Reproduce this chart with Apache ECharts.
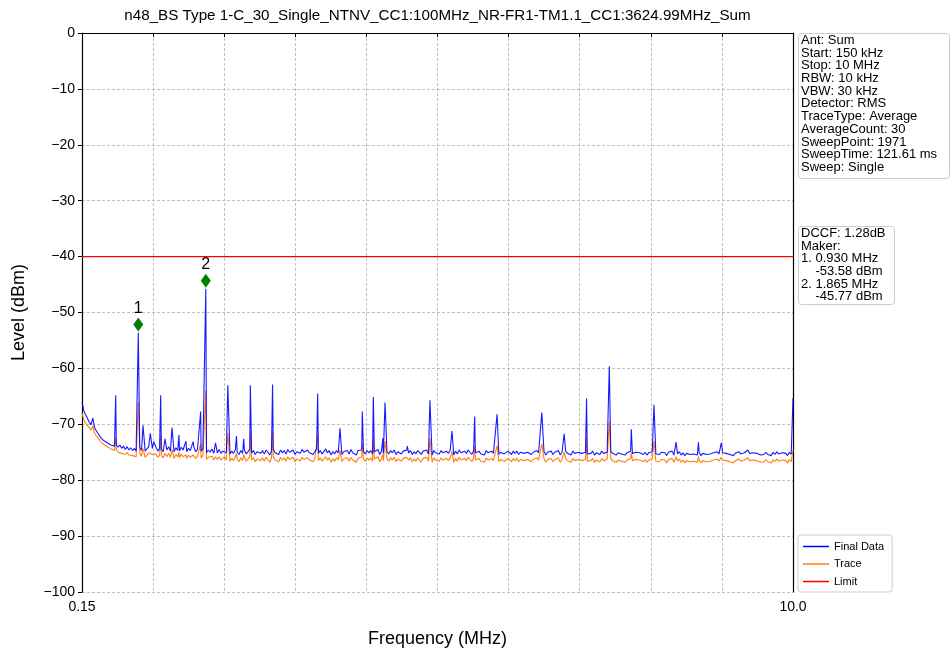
<!DOCTYPE html>
<html>
<head>
<meta charset="utf-8">
<script src="https://cdn.jsdelivr.net/npm/echarts@6/dist/echarts.min.js"></script>
<style>
  html, body { margin: 0; padding: 0; background: #fff; }
  #chart { width: 951px; height: 654px; }
</style>
</head>
<body>
<div id="chart"></div>
<script>
// sweep grid of the floor arrays below (MHz)
const sweepStart = 0.15;
const sweepStep = 0.025;

// Final Data noise floor (dBm), one value per grid step
const finalFloor = [
  -66.0,-67.6,-68.3,-68.9,-69.6,-70.1,-68.9,-70.6,-71.2,-71.5,-72.2,-72.0,-72.9,-72.7,-73.3,-73.1,-73.7,-73.4,-73.9,-73.6,
  -74.1,-73.7,-74.3,-73.9,-74.5,-74.0,-74.6,-74.2,-74.7,-74.3,-74.8,-74.4,-74.1,-74.7,-74.2,-74.8,-74.4,-74.0,-74.6,-74.3,
  -74.7,-74.1,-74.8,-74.3,-74.5,-74.9,-74.2,-74.6,-74.0,-74.8,-74.4,-74.9,-74.2,-74.7,-74.8,-74.1,-74.6,-74.4,-74.9,-74.3,
  -74.7,-74.4,-74.1,-74.9,-74.5,-74.2,-74.8,-74.4,-74.3,-75.1,-74.6,-75.0,-74.4,-75.2,-74.7,-75.1,-74.5,-75.2,-74.8,-74.5,
  -75.1,-74.6,-75.3,-74.8,-75.2,-74.5,-75.0,-75.4,-74.7,-75.2,-74.6,-75.3,-74.9,-74.4,-75.1,-74.7,-75.4,-74.9,-74.6,-75.2,
  -74.7,-75.3,-74.6,-75.0,-75.5,-74.8,-74.4,-75.1,-74.9,-75.4,-74.6,-75.1,-74.7,-75.3,-74.5,-75.0,-75.2,-74.6,-75.4,-74.9,
  -74.7,-75.2,-74.5,-75.0,-75.3,-74.6,-75.1,-74.8,-75.4,-74.9,-74.5,-75.2,-74.7,-75.3,-74.9,-74.4,-75.1,-74.7,-75.5,-74.9,
  -75.3,-74.7,-75.1,-74.6,-75.4,-74.9,-75.2,-74.7,-75.3,-74.5,-75.1,-74.8,-75.5,-74.7,-75.0,-74.6,-74.9,-75.3,-74.7,-75.1,
  -74.7,-75.3,-74.9,-75.1,-74.5,-75.4,-74.8,-75.2,-74.5,-74.9,-75.3,-74.7,-75.1,-74.6,-75.4,-74.9,-74.7,-75.3,-74.8,-75.1,
  -74.6,-75.1,-74.7,-75.4,-74.9,-75.3,-74.7,-75.0,-75.4,-74.8,-75.1,-74.6,-75.3,-74.9,-75.5,-74.7,-75.1,-74.8,-75.3,-74.7,
  -75.1,-75.4,-74.8,-75.2,-74.7,-75.0,-75.5,-74.8,-75.3,-74.6,-75.1,-75.4,-74.8,-75.2,-74.6,-75.0,-75.4,-74.8,-75.1,-75.3,
  -74.8,-75.3,-75.0,-75.5,-74.7,-75.1,-75.4,-74.8,-75.2,-75.0,-74.7,-75.4,-75.0,-74.8,-75.3,-75.5,-74.8,-75.1,-75.4,-74.8,
  -75.2,-74.8,-75.4,-75.0,-74.7,-75.2,-75.5,-75.0,-74.8,-75.4,-75.0,-75.2,-74.7,-75.1,-75.4,-75.2,-74.8,-75.5,-75.0,-75.2,
  -74.8,-75.4,-75.0,-75.2,-74.7,-75.5,-75.0,-75.3,-74.8,-75.2,-75.0,-75.5,-74.8,-75.2,-75.4,-75.0,-74.7,-75.2,-75.5,-75.0,
  -75.3,-75.0,-75.2,-74.8,-75.5,-75.1,-74.9,-75.4,-74.8,-75.2,-75.5,-75.0,-75.3,-74.8,-75.2,-75.0,-75.5,-75.1,-74.8,-75.3,
  -75.0,-75.5,-75.1,-75.3,-74.8,-75.2,-75.5,-75.0,-75.3,-75.1,-74.8,-75.4,-75.0,-75.5,-75.1,-75.3,-74.9,-74.7,-75.3,-75.1,
  -75.4,-75.0,-75.3,-75.1,-75.6,-75.0,-75.3,-74.8,-75.5,-75.1,-75.3,-74.9,-75.5,-75.1,-75.6,-75.2,-74.9,-75.4,-75.1,-75.3,
  -75.0,-75.5,-75.1,-75.6,-75.2,-74.9,-75.4,-75.1,-75.3,-75.6,-75.1,-75.4,-74.9,-75.3,-75.6,-75.1,-75.4,-75.2,-74.9,-75.4,
  -75.1,-75.6,-75.2,-75.4,-74.9,-75.3,-75.6,-75.1,-75.4,-74.6,-75.2,-75.5,-75.1,-75.4,-75.2,-74.9,-75.5,-75.2,-75.4,-75.0,
  -75.4,-75.2,-75.6,-75.0,-75.4,-74.9,-75.3,-75.5,-75.1,-75.4,-75.2,-75.6,-75.0,-75.4,-65.3
];

// Trace noise floor (dBm)
const traceFloor = [
  -68.0,-69.2,-69.8,-70.2,-70.6,-71.0,-70.3,-71.6,-72.1,-72.5,-73.0,-72.9,-73.6,-73.5,-74.0,-73.9,-74.4,-74.2,-74.7,-74.5,
  -75.0,-74.7,-75.2,-74.9,-75.4,-75.0,-75.5,-75.2,-75.6,-75.3,-75.8,-75.4,-75.2,-75.7,-75.3,-75.9,-75.5,-75.1,-75.7,-75.4,
  -75.8,-75.3,-75.9,-75.5,-75.6,-76.0,-75.4,-75.8,-75.2,-75.9,-75.5,-76.1,-75.4,-75.8,-76.0,-75.3,-75.8,-75.6,-76.1,-75.5,
  -75.9,-75.6,-75.3,-76.1,-75.7,-75.4,-76.0,-75.6,-75.5,-76.3,-75.9,-76.2,-75.7,-76.4,-76.0,-76.3,-75.8,-76.4,-76.1,-75.8,
  -76.4,-75.9,-76.6,-76.1,-76.5,-75.8,-76.3,-76.7,-76.0,-76.5,-75.9,-76.6,-76.2,-75.8,-76.4,-76.0,-76.7,-76.2,-75.9,-76.5,
  -76.0,-76.6,-75.9,-76.3,-76.8,-76.1,-75.8,-76.4,-76.2,-76.7,-75.9,-76.4,-76.0,-76.6,-75.8,-76.3,-76.5,-75.9,-76.7,-76.2,
  -76.0,-76.5,-75.9,-76.3,-76.6,-76.0,-76.4,-76.1,-76.7,-76.2,-75.9,-76.5,-76.0,-76.6,-76.2,-75.8,-76.4,-76.0,-76.8,-76.2,
  -76.6,-76.0,-76.4,-75.9,-76.7,-76.2,-76.5,-76.0,-76.6,-75.9,-76.4,-76.1,-76.8,-76.0,-76.3,-75.9,-76.2,-76.6,-76.0,-76.4,
  -76.0,-76.6,-76.2,-76.4,-75.8,-76.7,-76.1,-76.5,-75.8,-76.2,-76.6,-76.0,-76.4,-75.9,-76.7,-76.2,-76.0,-76.6,-76.1,-76.4,
  -75.9,-76.4,-76.0,-76.7,-76.2,-76.6,-76.0,-76.3,-76.7,-76.1,-76.4,-75.9,-76.6,-76.2,-76.8,-76.0,-76.4,-76.1,-76.6,-76.0,
  -76.4,-76.7,-76.1,-76.5,-76.0,-76.3,-76.8,-76.1,-76.6,-75.9,-76.4,-76.7,-76.1,-76.5,-75.9,-76.3,-76.7,-76.1,-76.4,-76.6,
  -76.1,-76.6,-76.3,-76.8,-76.0,-76.4,-76.7,-76.1,-76.5,-76.3,-76.0,-76.7,-76.3,-76.1,-76.6,-76.8,-76.1,-76.4,-76.7,-76.1,
  -76.5,-76.1,-76.7,-76.3,-76.0,-76.5,-76.8,-76.3,-76.1,-76.7,-76.3,-76.5,-76.0,-76.4,-76.7,-76.5,-76.1,-76.8,-76.3,-76.5,
  -76.1,-76.7,-76.3,-76.5,-76.0,-76.8,-76.3,-76.6,-76.1,-76.5,-76.3,-76.8,-76.1,-76.5,-76.7,-76.3,-76.0,-76.5,-76.8,-76.3,
  -76.6,-76.3,-76.5,-76.1,-76.8,-76.4,-76.2,-76.7,-76.1,-76.5,-76.8,-76.3,-76.6,-76.1,-76.5,-76.3,-76.8,-76.4,-76.1,-76.6,
  -76.3,-76.8,-76.4,-76.6,-76.1,-76.5,-76.8,-76.3,-76.6,-76.4,-76.1,-76.7,-76.3,-76.8,-76.4,-76.6,-76.2,-76.0,-76.6,-76.4,
  -76.7,-76.3,-76.6,-76.4,-76.9,-76.3,-76.6,-76.1,-76.8,-76.4,-76.6,-76.2,-76.8,-76.4,-76.9,-76.5,-76.2,-76.7,-76.4,-76.6,
  -76.3,-76.8,-76.4,-76.9,-76.5,-76.2,-76.7,-76.4,-76.6,-76.9,-76.4,-76.7,-76.2,-76.6,-76.9,-76.4,-76.7,-76.5,-76.2,-76.7,
  -76.4,-76.9,-76.5,-76.7,-76.2,-76.6,-76.9,-76.4,-76.7,-76.0,-76.5,-76.8,-76.4,-76.7,-76.5,-76.2,-76.8,-76.5,-76.7,-76.3,
  -76.7,-76.5,-76.9,-76.3,-76.7,-76.2,-76.6,-76.8,-76.4,-76.7,-76.5,-76.9,-76.3,-76.7,-74.5
];

// spurs: frequency (MHz), Final Data peak, Trace peak (dBm)
const spikeFreq  = [0.617, 0.930, 0.995, 1.096, 1.145, 1.240, 1.300, 1.397, 1.494, 1.590, 1.690, 1.794, 1.865,
                    2.000, 2.170, 2.290, 2.390, 2.482, 2.790, 3.415, 3.724, 4.033, 4.186, 4.318, 4.348, 4.657,
                    4.970, 5.276, 5.590, 5.900, 6.520, 6.830, 7.140, 7.455, 7.760, 8.074, 8.380, 8.690, 9.007];
const spikeFinal = [-64.8, -53.58, -70.2, -71.6, -73.1, -64.8, -72.6, -70.6, -71.9, -73.0, -73.1, -67.7, -45.77,
                    -73.3, -63.0, -72.1, -72.6, -63.0, -62.9, -64.5, -70.7, -67.7, -65.1, -72.5, -66.1, -73.9,
                    -65.7, -71.2, -68.6, -68.2, -67.9, -71.7, -65.4, -59.6, -70.9, -66.5, -73.2, -73.2, -73.3];
const spikeTrace = [-72.5, -66.0, -74.3, -74.8, -75.3, -72.0, -75.2, -74.5, -75.0, -75.5, -75.5, -73.5, -64.0,
                    -75.8, -71.5, -75.2, -75.4, -71.5, -71.5, -72.0, -74.6, -73.5, -72.5, -75.4, -73.0, -75.9,
                    -72.5, -74.8, -74.0, -73.8, -73.5, -75.0, -72.5, -69.5, -75.0, -73.0, -75.8, -75.8, -75.9];

const limitLevel = -40;
const markerFreq = [0.930, 1.865];
const markerLevel = [-53.58, -45.77];
const markerName = ['1', '2'];

const xTicks = [0.15, 1.135, 2.12, 3.105, 4.09, 5.075, 6.06, 7.045, 8.03, 9.015, 10.0];
const xLabels = [0.15, 10.0];

const infoLines = [
  'Ant: Sum', 'Start: 150 kHz', 'Stop: 10 MHz', 'RBW: 10 kHz', 'VBW: 30 kHz', 'Detector: RMS',
  'TraceType: Average', 'AverageCount: 30', 'SweepPoint: 1971', 'SweepTime: 121.61 ms', 'Sweep: Single'
];
const markerLines = [
  'DCCF: 1.28dB', 'Maker:', '1. 0.930 MHz', '    -53.58 dBm', '2. 1.865 MHz', '    -45.77 dBm'
];

const FONT = '"Liberation Sans", Arial, sans-serif';

// merge the floor with the spurs
function buildTrace(floor, peaks) {
  const pts = [];
  floor.forEach((v, i) => {
    const f = +(sweepStart + i * sweepStep).toFixed(3);
    if (!spikeFreq.some(s => Math.abs(s - f) < 0.006)) pts.push([f, v]);
  });
  spikeFreq.forEach((f, k) => pts.push([f, peaks[k]]));
  return pts.sort((a, b) => a[0] - b[0]);
}

const chart = echarts.init(document.getElementById('chart'));

const gridLine = { show: true, lineStyle: { color: '#b0b0b0', width: 0.8, type: [3, 2] } };
const axisBlack = { show: true, lineStyle: { color: '#000', width: 1.2 } };

const option = {
  animation: false,
  backgroundColor: '#fff',
  textStyle: { fontFamily: FONT },
  grid: { left: 82, right: 158, top: 33, bottom: 62 },
  legend: {
    orient: 'vertical',
    left: 798, top: 535,
    padding: [5, 8, 4, 5],
    itemWidth: 26, itemHeight: 1.5, itemGap: 4.5,
    icon: 'rect',
    borderColor: '#cccccc', borderWidth: 1, borderRadius: 3,
    backgroundColor: '#fff',
    textStyle: { fontSize: 11, lineHeight: 13, color: '#000', fontFamily: FONT },
    data: ['Final Data', 'Trace', 'Limit']
  },
  xAxis: [
    {
      type: 'value', min: 0.15, max: 10,
      name: 'Frequency (MHz)', nameLocation: 'middle', nameGap: 38,
      nameTextStyle: { fontSize: 18, color: '#000', fontFamily: FONT },
      axisLine: axisBlack,
      axisTick: { show: true, inside: false, length: 4, customValues: xTicks, lineStyle: { color: '#000' } },
      axisLabel: {
        customValues: xLabels, fontSize: 14, color: '#000', margin: 8,
        formatter: v => (v >= 9.99 ? '10.0' : '0.15')
      },
      splitLine: gridLine
    },
    {
      type: 'value', min: 0.15, max: 10, position: 'top',
      axisLine: axisBlack, axisTick: { show: false }, axisLabel: { show: false }, splitLine: { show: false }
    }
  ],
  yAxis: [
    {
      type: 'value', min: -100, max: 0, interval: 10,
      name: 'Level (dBm)', nameLocation: 'middle', nameGap: 54,
      nameTextStyle: { fontSize: 18, color: '#000', fontFamily: FONT },
      axisLine: axisBlack,
      axisTick: { show: true, inside: false, length: 4, lineStyle: { color: '#000' } },
      axisLabel: {
        fontSize: 14, color: '#000', margin: 7,
        formatter: v => (v < 0 ? '\u2212' + Math.abs(v) : String(v))
      },
      splitLine: gridLine
    },
    {
      type: 'value', min: -100, max: 0, position: 'right',
      axisLine: axisBlack, axisTick: { show: false }, axisLabel: { show: false }, splitLine: { show: false }
    }
  ],
  series: [
    {
      name: 'Final Data', type: 'line', symbol: 'none', z: 3,
      lineStyle: { color: '#0000ff', width: 1.1, opacity: 0.9 }, itemStyle: { color: '#0000ff' },
      data: buildTrace(finalFloor, spikeFinal)
    },
    {
      name: 'Trace', type: 'line', symbol: 'none', z: 2,
      lineStyle: { color: '#ff7f0e', width: 1.1 }, itemStyle: { color: '#ff7f0e' },
      data: buildTrace(traceFloor, spikeTrace)
    },
    {
      name: 'Limit', type: 'line', symbol: 'none', z: 4,
      lineStyle: { color: '#ff0000', width: 1.2 }, itemStyle: { color: '#ff0000' },
      data: [[0.15, limitLevel], [10, limitLevel]]
    },
    {
      name: 'Marker', type: 'scatter', z: 5,
      symbol: 'diamond', symbolSize: [10, 14], symbolOffset: [0, -8],
      itemStyle: { color: '#008000', opacity: 1 },
      label: { show: true, position: 'top', distance: 1, fontSize: 16, color: '#000', formatter: p => p.name },
      data: markerFreq.map((f, i) => ({ name: markerName[i], value: [f, markerLevel[i]] }))
    }
  ],
  graphic: [
    {
      type: 'text', x: 437.5, y: 16,
      style: {
        text: 'n48_BS Type 1-C_30_Single_NTNV_CC1:100MHz_NR-FR1-TM1.1_CC1:3624.99MHz_Sum',
        font: '15.2px ' + FONT, fill: '#000', textAlign: 'center', textVerticalAlign: 'middle'
      }
    },
    {
      type: 'rect', shape: { x: 798.5, y: 33.5, width: 151, height: 145, r: 3 },
      style: { fill: '#fff', stroke: '#cccccc', lineWidth: 1 }
    },
    {
      type: 'text', x: 801, y: 34,
      style: { text: infoLines.join('\n'), font: '13px ' + FONT, lineHeight: 12.7, fill: '#000' }
    },
    {
      type: 'rect', shape: { x: 798.5, y: 226.5, width: 96, height: 78, r: 3 },
      style: { fill: '#fff', stroke: '#cccccc', lineWidth: 1 }
    },
    {
      type: 'text', x: 801, y: 227,
      style: { text: markerLines.join('\n'), font: '13px ' + FONT, lineHeight: 12.7, fill: '#000' }
    }
  ]
};

chart.setOption(option);
</script>
</body>
</html>
